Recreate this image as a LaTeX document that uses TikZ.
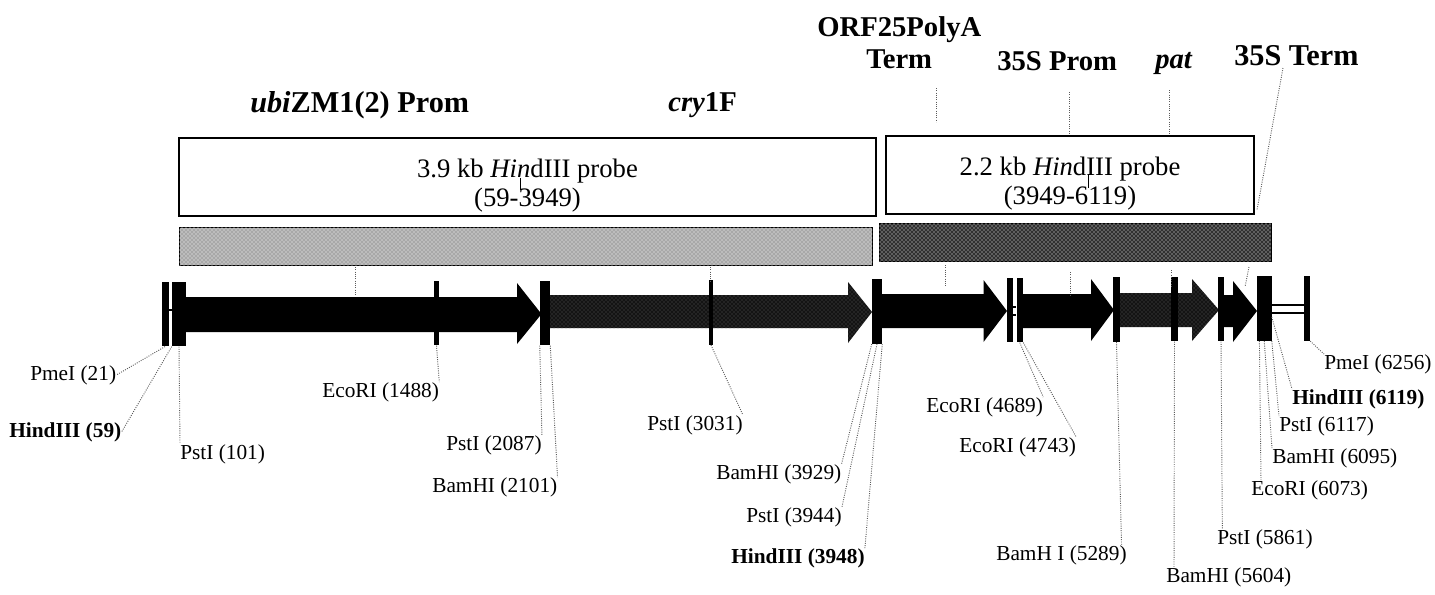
\documentclass[tikz,border=0pt]{standalone}
\usepackage{fontspec}
\setmainfont{Liberation Serif}
\usepackage{xcolor}
\usetikzlibrary{patterns}
\definecolor{leadergray}{HTML}{5A5A5A}
\definecolor{lightstrip}{HTML}{A8A8A8}
\definecolor{darkstrip}{HTML}{303030}
\definecolor{stipplegene}{HTML}{141414}
\tikzset{
    sitemark/.style={
        fill=black, inner sep=0pt, minimum height=48.5pt,
        minimum width=#1*0.75pt
    },
    sitelabel/.style={
        anchor=west, inner sep=0pt, font=\fontsize{16}{18}\selectfont
    },
    sitelabelhi/.style={
        sitelabel, font=\fontsize{16}{18}\selectfont\bfseries
    },
    genetitle/.style={
        anchor=west, inner sep=0pt, font=\fontsize{21.5}{24}\selectfont\bfseries
    },
    genetitlewide/.style={
        genetitle, font=\fontsize{22.7}{24}\selectfont\bfseries
    },
    probebox/.style={
        draw=black, line width=1pt, inner sep=0pt, align=center,
        minimum height=58.5pt,
        font=\fontsize{20}{21.75}\selectfont
    },
    probestrip/.style={
        inner sep=0pt, minimum height=28pt, pattern color=white,
        pattern=crosshatch dots
    },
    leader/.style={densely dotted, line width=0.7pt, color=leadergray},
    stipple/.style={
        preaction={fill=stipplegene}, pattern=crosshatch dots,
        pattern color=white!30!stipplegene
    },
}
\begin{document}
\begin{tikzpicture}[x=0.75pt, y=-0.75pt]
    \useasboundingbox (0,0) rectangle (1435,594);
    % gene names
    \node[genetitlewide] (tubi) at (250,105) {\textit{ubi}ZM1(2) Prom};
    \node[genetitle] (tcry) at (668,105) {\textit{cry}1F};
    \node[genetitle] (torf) at (817,30) {ORF25PolyA};
    \node[genetitle] (tterm) at (866,59) {Term};
    \node[genetitle] (tprom) at (997,61) {35S Prom};
    \node[genetitle] (tpat) at (1155,63) {\textit{pat}};
    \node[genetitlewide] (tend) at (1234,56) {35S Term};
    % probes
    \node[probebox, minimum width=522.75pt] (probea) at (527.5,177) {\rule{0pt}{27pt}3.9 kb \textit{Hin}dIII probe\\(59-3949)};
    \node[probebox, minimum width=276pt] (probeb) at (1070,175) {\rule{0pt}{27pt}2.2 kb \textit{Hin}dIII probe\\(3949-6119)};
    \node[probestrip, minimum width=519.75pt, preaction={fill=lightstrip, draw=black, line width=0.6pt}] (stripa) at (525.5,246.5) {};
    \node[probestrip, minimum width=294pt, preaction={fill=darkstrip, draw=black, line width=0.6pt}] (stripb) at (1075,242.5) {};
    % gene arrows
    \fill (186,297) -- (517,297) -- (517,283) -- (541.5,314) -- (517,344) -- (517,332) -- (186,332) -- cycle;
    \path[stipple] (550,295) -- (848,295) -- (848,282) -- (872,312) -- (848,343) -- (848,328) -- (550,328) -- cycle;
    \fill (882,294) -- (983.5,294) -- (983.5,280) -- (1007,311) -- (983.5,342) -- (983.5,328) -- (882,328) -- cycle;
    \fill (1023,294) -- (1091,294) -- (1091,279) -- (1114,310) -- (1091,341) -- (1091,328) -- (1023,328) -- cycle;
    \path[stipple] (1120,293) -- (1192,293) -- (1192,279) -- (1219,310) -- (1192,341) -- (1192,327) -- (1120,327) -- cycle;
    \fill (1224,295) -- (1233,295) -- (1233,281) -- (1257,311) -- (1233,342) -- (1233,327) -- (1224,327) -- cycle;
    % restriction sites
    \node[sitemark=7] (mpme) at (165,314) {};
    \node[sitemark=14] (mhind) at (179,314) {};
    \node[sitemark=5] (meco) at (436.5,313) {};
    \node[sitemark=10] (mbam) at (545,313) {};
    \node[sitemark=4] (mpst) at (711,312.5) {};
    \node[sitemark=10] (mcut) at (877,311.5) {};
    \node[sitemark=6] (mecoa) at (1010,310) {};
    \node[sitemark=6.5] (mecob) at (1019.75,310) {};
    \node[sitemark=7] (mbamb) at (1116.5,309.5) {};
    \node[sitemark=7] (mbamc) at (1174.5,309) {};
    \node[sitemark=6] (mpstb) at (1221,309) {};
    \node[sitemark=14.5] (mend) at (1264.25,308.5) {};
    \node[sitemark=6] (mpmeb) at (1307,308.5) {};
    \draw[line width=0.8pt] (mpme.east |- 0,310) -- (mhind.west |- 0,310);
    \draw[line width=0.8pt] (mecoa.east |- 0,307) -- (mecob.west |- 0,307);
    \draw[line width=0.8pt] (mecoa.east |- 0,315) -- (mecob.west |- 0,315);
    \draw[line width=1pt] (mend.east |- 0,305) -- (mpmeb.west |- 0,305);
    \draw[line width=1pt] (mend.east |- 0,313) -- (mpmeb.west |- 0,313);
    % site names
    \node[sitelabel] (lpme) at (30,375) {PmeI (21)};
    \node[sitelabelhi] (lhind) at (9,432) {HindIII (59)};
    \node[sitelabel] (lpst) at (180,454) {PstI (101)};
    \node[sitelabel] (leco) at (322,392) {EcoRI (1488)};
    \node[sitelabel] (lpstb) at (446,445) {PstI (2087)};
    \node[sitelabel] (lbam) at (432,487) {BamHI (2101)};
    \node[sitelabel] (lpstc) at (647,425) {PstI (3031)};
    \node[sitelabel] (lbamb) at (716,474) {BamHI (3929)};
    \node[sitelabel] (lpstd) at (746,517) {PstI (3944)};
    \node[sitelabelhi] (lhindb) at (731,558) {HindIII (3948)};
    \node[sitelabel] (lecob) at (926,407) {EcoRI (4689)};
    \node[sitelabel] (lecoc) at (959,447) {EcoRI (4743)};
    \node[sitelabel] (lbamc) at (996,555) {BamH I (5289)};
    \node[sitelabel] (lbamd) at (1166,577) {BamHI (5604)};
    \node[sitelabel] (lpste) at (1217,539) {PstI (5861)};
    \node[sitelabel] (lecod) at (1251,490) {EcoRI (6073)};
    \node[sitelabel] (lbame) at (1272,458) {BamHI (6095)};
    \node[sitelabel] (lpstf) at (1279,426) {PstI (6117)};
    \node[sitelabelhi] (lhindc) at (1292,399) {HindIII (6119)};
    \node[sitelabel] (lpmeb) at (1324,364) {PmeI (6256)};
    % leaders
    \draw[leader] (mpme.south) -- (lpme.east);
    \draw[leader] (mhind.south west) -- (lhind.east);
    \draw[leader] (mhind.south) -- (lpst.north west);
    \draw[leader] (meco.south) -- (leco.north east);
    \draw[leader] (mbam.south west) -- (lpstb.north east);
    \draw[leader] (mbam.south east) -- (lbam.north east);
    \draw[leader] (mpst.south) -- (lpstc.north east);
    \draw[leader] (mcut.south west) -- (lbamb.north east);
    \draw[leader] (mcut.south) -- (lpstd.north east);
    \draw[leader] (mcut.south east) -- (lhindb.north east);
    \draw[leader] (mecob.south) -- (lecob.north east);
    \draw[leader] (mecob.south east) -- (lecoc.north east);
    \draw[leader] (mbamb.south) -- ([xshift=-4pt]lbamc.north east);
    \draw[leader] (mbamc.south) -- ([xshift=6pt]lbamd.north west);
    \draw[leader] (mpstb.south) -- ([xshift=4pt]lpste.north west);
    \draw[leader] ([xshift=2pt]mend.south west) -- ([xshift=7.5pt]lecod.north west);
    \draw[leader] (mend.south) -- (lbame.north west);
    \draw[leader] (mend.south east) -- (lpstf.north west);
    \draw[leader] (mend.east |- 0,317) -- (lhindc.north west);
    \draw[leader] (mpmeb.south east) -- (lpmeb.north west);
    % gene name ticks
    \foreach \x/\ya/\yb in {936/88/122, 1069/92/135, 1169/90/135, 355/267/295, 710/267/282, 945/265/287, 1070/272/295, 1171/270/287}
        \draw[leader] (\x,\ya) -- (\x,\yb);
    \draw[leader] (1283,68) -- (1257,210);
    \draw[leader] (1249,267) -- (1245,287);
    \draw[line width=0.7pt] (520,178) -- (520,190);
    \draw[line width=0.7pt] (1088,174) -- (1088,188);
\end{tikzpicture}
\end{document}
